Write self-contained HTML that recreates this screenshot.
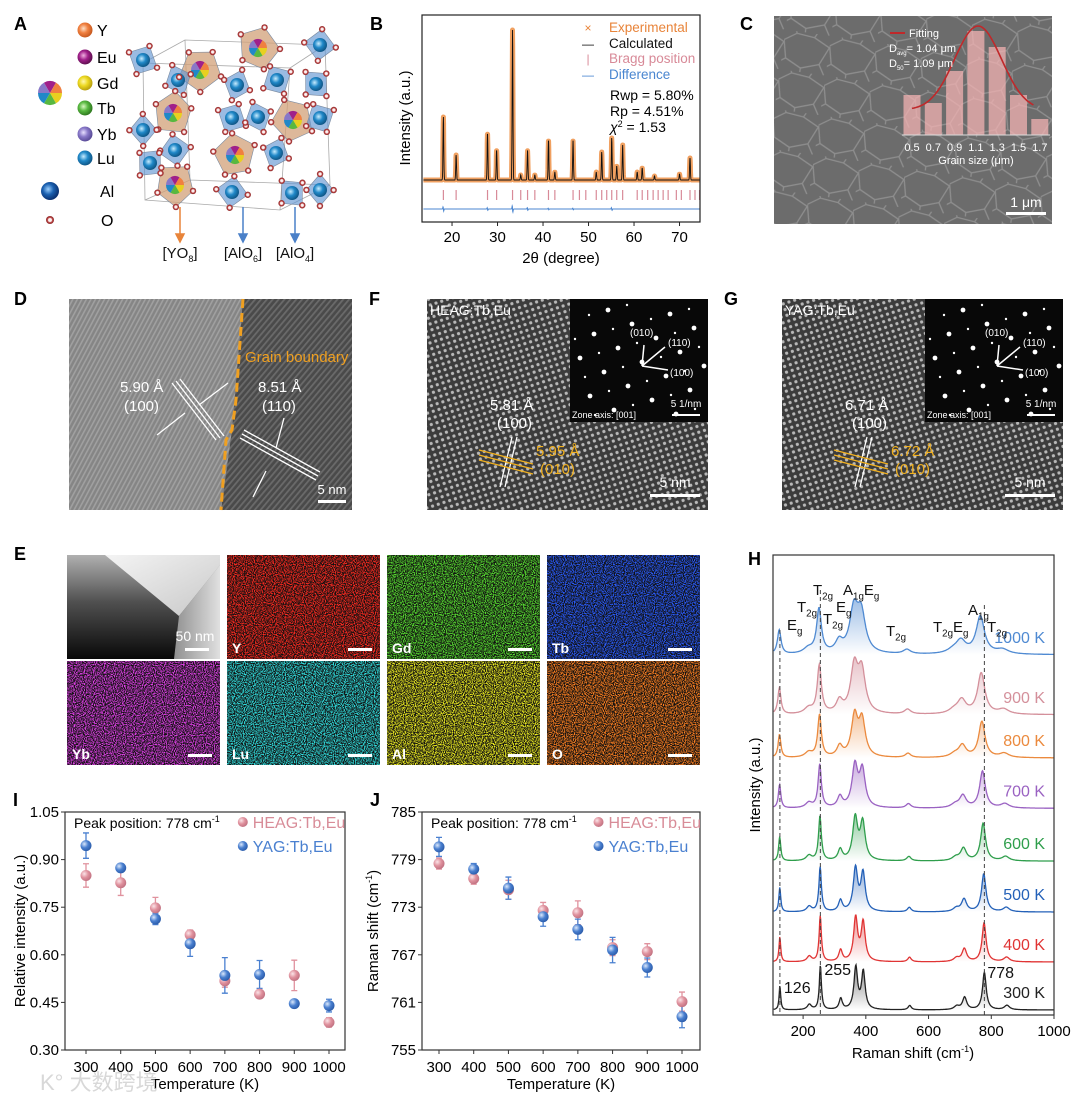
<!DOCTYPE html>
<html><head><meta charset="utf-8"><style>
html,body{margin:0;padding:0;background:#fff}
svg{display:block;font-family:"Liberation Sans",Arial,sans-serif}
</style></head><body>
<svg id="fig" width="1080" height="1108" viewBox="0 0 1080 1108" xmlns="http://www.w3.org/2000/svg">
<defs>
<radialGradient id="gY" cx="0.4" cy="0.4" r="0.6"><stop offset="0" stop-color="#fde0c8"/><stop offset="0.5" stop-color="#f08040"/><stop offset="1" stop-color="#c85a20"/></radialGradient>
<radialGradient id="gEu" cx="0.4" cy="0.4" r="0.6"><stop offset="0" stop-color="#f0b0e0"/><stop offset="0.5" stop-color="#a0208a"/><stop offset="1" stop-color="#601050"/></radialGradient>
<radialGradient id="gGd" cx="0.4" cy="0.4" r="0.6"><stop offset="0" stop-color="#fff8b0"/><stop offset="0.5" stop-color="#ecd820"/><stop offset="1" stop-color="#b8a010"/></radialGradient>
<radialGradient id="gTb" cx="0.4" cy="0.4" r="0.6"><stop offset="0" stop-color="#d8f8c0"/><stop offset="0.5" stop-color="#58b840"/><stop offset="1" stop-color="#307a20"/></radialGradient>
<radialGradient id="gYb" cx="0.4" cy="0.4" r="0.6"><stop offset="0" stop-color="#e8e0ff"/><stop offset="0.5" stop-color="#8878c8"/><stop offset="1" stop-color="#5a4c98"/></radialGradient>
<radialGradient id="gLu" cx="0.4" cy="0.4" r="0.6"><stop offset="0" stop-color="#c8ecff"/><stop offset="0.5" stop-color="#2088c8"/><stop offset="1" stop-color="#105888"/></radialGradient>
<radialGradient id="gAl" cx="0.4" cy="0.4" r="0.6"><stop offset="0" stop-color="#9cd0ff"/><stop offset="0.5" stop-color="#1a60b0"/><stop offset="1" stop-color="#0a3070"/></radialGradient>
<radialGradient id="gO" cx="0.5" cy="0.5" r="0.5"><stop offset="0" stop-color="#fff"/><stop offset="0.45" stop-color="#f4e0e0"/><stop offset="0.6" stop-color="#c04848"/><stop offset="1" stop-color="#8a2828"/></radialGradient>
<radialGradient id="gPink" cx="0.35" cy="0.35" r="0.7"><stop offset="0" stop-color="#fbe4e8"/><stop offset="0.5" stop-color="#e0929e"/><stop offset="1" stop-color="#c07080"/></radialGradient>
<radialGradient id="gBlue" cx="0.35" cy="0.35" r="0.7"><stop offset="0" stop-color="#dbe8fb"/><stop offset="0.5" stop-color="#4a80d0"/><stop offset="1" stop-color="#2a5aa8"/></radialGradient>
<pattern id="fringeL" width="4" height="4" patternUnits="userSpaceOnUse" patternTransform="rotate(28)"><rect width="4" height="4" fill="#858585"/><rect width="1.6" height="4" fill="#a0a0a0"/></pattern>
<pattern id="fringeR" width="4.5" height="4.5" patternUnits="userSpaceOnUse" patternTransform="rotate(40)"><rect width="4.5" height="4.5" fill="#4a4a4a"/><rect width="1.8" height="4.5" fill="#6a6a6a"/></pattern>
<pattern id="lattice" width="6" height="6" patternUnits="userSpaceOnUse" patternTransform="rotate(-18)"><rect width="6" height="6" fill="#3c3c3c"/><circle cx="3" cy="3" r="1.6" fill="#b8b8b8"/></pattern>
<pattern id="grains" width="46" height="40" patternUnits="userSpaceOnUse" patternTransform="rotate(8)"><rect width="46" height="40" fill="#6c6c6c"/><path d="M0 10 L12 2 L30 4 L46 12 M12 2 L10 -4 M30 4 L34 -4 M0 10 L4 28 L20 36 L38 30 L46 12 M20 36 L20 44 M38 30 L44 40 M4 28 L-2 32" stroke="#8e8e8e" stroke-width="1.3" fill="none"/></pattern>
<filter id="speck" x="0" y="0" width="1" height="1"><feTurbulence type="fractalNoise" baseFrequency="0.9" numOctaves="1" seed="3" result="n"/><feColorMatrix in="n" type="matrix" values="0 0 0 0 0  0 0 0 0 0  0 0 0 0 0  4 0 0 0 -1.6" result="a"/><feComposite in="SourceGraphic" in2="a" operator="in"/></filter>
<linearGradient id="temL" x1="0" y1="0" x2="0" y2="1"><stop offset="0" stop-color="#b0b0b0"/><stop offset="0.45" stop-color="#505050"/><stop offset="1" stop-color="#080808"/></linearGradient>
<linearGradient id="temR" x1="0" y1="0" x2="1" y2="1"><stop offset="0" stop-color="#f4f4f4"/><stop offset="1" stop-color="#c8c8c8"/></linearGradient>
<linearGradient id="temB" x1="0" y1="0" x2="1" y2="0"><stop offset="0" stop-color="#909090"/><stop offset="1" stop-color="#e0e0e0"/></linearGradient>
</defs>
<g id="panelA"></g>
<g id="panelB"></g>
<g id="panelC"></g>
<g id="panelD"></g>
<g id="panelF"></g>
<g id="panelG"></g>
<g id="panelE"></g>
<g id="panelH"></g>
<g id="panelI"></g>
<g id="panelJ"></g>
<text x="40" y="1090" font-size="22" fill="#d8d8d8" font-family="'Liberation Sans','Noto Sans CJK SC',sans-serif">K° 大数跨境</text>
</svg>
<script>
// ===== Chart data =====
// B: XRD
const xrdPeakPos = [18.1,20.9,27.8,29.8,33.3,35.1,36.6,38.2,41.2,42.6,46.6,51.7,52.9,55.1,56.2,57.5,60.7,61.8,64.5,70.0,72.3];
const xrdPeakHt  = [63,25,47,30,150,5,30,5,40,8,40,8,28,42,14,35,8,12,4,6,22];
const braggPos = [18.1,20.9,27.8,29.8,33.3,35.1,36.6,38.2,41.2,42.6,46.6,48.0,49.4,51.7,52.9,54.0,55.1,56.2,57.5,60.7,61.8,63.0,64.2,65.3,66.4,67.5,69.3,70.4,72.3,73.4,74.4];
const diffPos = [18.1,27.8,33.3,36.6,41.2,46.6,55.1];
const diffAmp = [5,3,7,3,2,2,3];
const xrdTicks = [20,30,40,50,60,70];
// C: grain-size histogram
const grainSizes = [0.5,0.7,0.9,1.1,1.3,1.5,1.7];
const grainCounts = [40,32,64,104,88,40,16];
const grainTicks = ['0.5','0.7','0.9','1.1','1.3','1.5','1.7'];
const fitMean = 1.12, fitSigma = 0.22, fitAmp = 84, fitBase = 25;
// H: Raman
const ramanTemps = [300,400,500,600,700,800,900,1000];
const ramanLabels = ['300 K','400 K','500 K','600 K','700 K','800 K','900 K','1000 K'];
const ramanColors = ['#222222','#e03434','#2461b8','#2f9e4c','#9a62c2','#eb8a3e','#d4909b','#4f8ad2'];
const ramanOffset = [0,1.0,2.04,3.1,4.2,5.25,6.15,7.4];
const ramanAmp = [0.92,0.95,0.93,0.92,0.9,0.88,1.0,0.92];
const ramanShift = [0,-1,-2,-4,-6,-8,-10,-13];
const ramanBroad = [1,1.1,1.2,1.35,1.55,1.75,2.0,2.3];
const modePos = [126,220,255,320,368,392,540,690,715,778,850];
const modeHt  = [0.55,0.12,1.0,0.25,0.95,0.85,0.1,0.08,0.28,0.85,0.1];
const modeWid = [3,8,4,6,7,7,6,10,8,7,10];
const ramanTicks = [200,400,600,800,1000];
const markedPeaks = [126,255,778];
// I
const tempsIJ = [300,400,500,600,700,800,900,1000];
const heagInt = [0.850,0.827,0.748,0.663,0.518,0.476,0.535,0.387];
const heagIntErr = [0.037,0.040,0.033,0.015,0.020,0.010,0.048,0.015];
const yagInt = [0.944,0.874,0.713,0.635,0.535,0.538,0.446,0.440];
const yagIntErr = [0.040,0.012,0.018,0.040,0.056,0.044,0.005,0.020];
const intTicks = ['0.30','0.45','0.60','0.75','0.90','1.05'];
// J
const heagShift = [778.5,776.6,775.2,772.6,772.3,767.9,767.4,761.1];
const heagShiftErr = [0.7,0.7,1.2,1.0,1.5,1.0,1.0,1.2];
const yagShift = [780.6,777.8,775.4,771.8,770.2,767.6,765.4,759.2];
const yagShiftErr = [1.2,0.7,1.4,1.2,1.3,1.6,1.2,1.4];
const shiftTicks = [755,761,767,773,779,785];

const NS='http://www.w3.org/2000/svg';
function mk(tag,attrs,parent){const e=document.createElementNS(NS,tag);for(const k in attrs)e.setAttribute(k,attrs[k]);parent.appendChild(e);return e;}
function txt(s,x,y,size,parent,extra){const a={x:x,y:y,'font-size':size};if(extra)for(const k in extra)a[k]=extra[k];const t=mk('text',a,parent);t.textContent=s;return t;}
function sub(parent,x,y,size,main,subs,fill,anchor){const t=mk('text',{x:x,y:y,'font-size':size,fill:fill||'#111','text-anchor':anchor||'start'},parent);
  for(let i=0;i<main.length;i++){const a=document.createElementNS(NS,'tspan');a.textContent=main[i];if(i>0)a.setAttribute('dy',-size*0.3);t.appendChild(a);
   const b=document.createElementNS(NS,'tspan');b.setAttribute('font-size',size*0.65);b.setAttribute('dy',size*0.3);b.textContent=subs[i];t.appendChild(b);}
  return t;}

// ===== Panel A =====
(function(){
 const g=document.getElementById('panelA');
 const lab=txt('A',14,30,18,g,{'font-weight':'bold'});
 
 
 const els=[['Y','gY',30],['Eu','gEu',57],['Gd','gGd',83],['Tb','gTb',108],['Yb','gYb',134],['Lu','gLu',158]];
 els.forEach(e=>{const c=mk('circle',{cx:85,cy:e[2],r:7.5,fill:'url(#'+e[1]+')'},g);
  
  
  const t=txt(e[0],97,e[2]+6,16,g);
  
  });
 const cols=['#e8d020','#58b840','#2088c8','#8878c8','#a0208a','#f08040'];
 for(let i=0;i<6;i++){const a1=i*Math.PI/3,a2=(i+1)*Math.PI/3;
  const p=mk('path',{d:`M50 93 L${50+12*Math.cos(a1)} ${93+12*Math.sin(a1)} A12 12 0 0 1 ${50+12*Math.cos(a2)} ${93+12*Math.sin(a2)} Z`,fill:cols[i]},g);
  
  }
 const al=mk('circle',{cx:50,cy:191,r:9,fill:'url(#gAl)'},g);
 
 
 const ta=txt('Al',100,197,16,g);
 const o=mk('circle',{cx:50,cy:220,r:4,fill:'url(#gO)'},g);
 
 
 const to=txt('O',101,226,16,g);
 const box=mk('path',{d:'M143 63 L290 68 L280 210 L145 200 Z M185 40 L325 45 L330 185 L190 180 Z M143 63 L185 40 M290 68 L325 45 M280 210 L330 185 M145 200 L190 180',fill:'none',stroke:'#aaa','stroke-width':0.8},g);
 
 
 const blue=[[143,60],[178,80],[237,85],[277,80],[320,45],[316,84],[143,130],[150,163],[175,150],[232,118],[258,117],[276,153],[320,118],[232,192],[292,193],[320,190]];
 const brown=[[200,70],[258,48],[173,113],[235,155],[293,120],[175,185]];
 function poly(cx,cy,r,n,rot,fill,name){let pts=[];for(let i=0;i<n;i++){const a=rot+i*2*Math.PI/n;pts.push([cx+r*Math.cos(a)*(i%2?0.85:1),cy+r*Math.sin(a)]);}
  const p=mk('polygon',{points:pts.map(q=>q.join(',')).join(' '),fill:fill,stroke:'#7a8aa0','stroke-width':0.6},g);
  
  
  return pts;}
 const ox=[];
 brown.forEach((b,i)=>{const pts=poly(b[0],b[1],22,5,0.3+i,'rgba(210,160,120,0.75)','yo8-polyhedron');ox.push(...pts);});
 blue.forEach((b,i)=>{const pts=poly(b[0],b[1],16,4,0.5+i*0.7,'rgba(100,150,210,0.65)','alo-polyhedron');ox.push(...pts);});
 brown.forEach(b=>{for(let i=0;i<6;i++){const a1=i*Math.PI/3,a2=(i+1)*Math.PI/3,r=9;
  const p=mk('path',{d:`M${b[0]} ${b[1]} L${b[0]+r*Math.cos(a1)} ${b[1]+r*Math.sin(a1)} A${r} ${r} 0 0 1 ${b[0]+r*Math.cos(a2)} ${b[1]+r*Math.sin(a2)} Z`,fill:cols[i]},g);
  
  }});
 blue.forEach(b=>{const c=mk('circle',{cx:b[0],cy:b[1],r:7,fill:'url(#gLu)'},g);
  
  });
 ox.forEach(p=>{const c=mk('circle',{cx:p[0],cy:p[1],r:3.2,fill:'url(#gO)'},g);
  
  });
 [[180,'#e8843a','[YO','8'],[243,'#4a80c8','[AlO','6'],[295,'#4a80c8','[AlO','4']].forEach(a=>{
  const l=mk('path',{d:`M${a[0]} 207 L${a[0]} 240 M${a[0]-4} 234 L${a[0]} 242 L${a[0]+4} 234 Z`,stroke:a[1],fill:a[1],'stroke-width':1.5},g);
  
  
  const t=mk('text',{x:a[0],y:258,'font-size':15,'text-anchor':'middle',fill:'#111'},g);
  t.innerHTML=a[2]+'<tspan font-size="9" dy="4">'+a[3]+'</tspan><tspan dy="-4">]</tspan>';
  
  });
})();

// ===== Panel B =====
(function(){
 const g=document.getElementById('panelB');
 const L=422,R=700,T=15,Bm=222,lo=13.4,hi=74.5;
 const xb=v=>L+(v-lo)*(R-L)/(hi-lo);
 const base=180;
 const lab=txt('B',370,30,18,g,{'font-weight':'bold'});
 
 
 const prof=v=>{let s=0;for(let i=0;i<xrdPeakPos.length;i++){s+=xrdPeakHt[i]*Math.exp(-Math.pow((v-xrdPeakPos[i])/0.12,2));}return s;};
 let d='';for(let v=lo+0.3;v<=hi-0.1;v+=0.04){d+=(d?'L':'M')+xb(v).toFixed(1)+' '+(base-prof(v)).toFixed(1);}
 const ex=mk('path',{d:d,fill:'none',stroke:'#f0a060','stroke-width':5,'stroke-linejoin':'round'},g);
 
 
 const ca=mk('path',{d:d,fill:'none',stroke:'#111','stroke-width':0.9},g);
 
 
 braggPos.forEach(v=>{const l=mk('line',{x1:xb(v),x2:xb(v),y1:190,y2:200,stroke:'#d88a98','stroke-width':1.2},g);
  
  });
 let dd='';for(let v=lo+0.3;v<=hi-0.1;v+=0.04){let s=0;for(let i=0;i<diffPos.length;i++){const u=(v-diffPos[i])/0.1;s+=diffAmp[i]*u*Math.exp(-u*u);}dd+=(dd?'L':'M')+xb(v).toFixed(1)+' '+(209+s).toFixed(1);}
 const df=mk('path',{d:dd,fill:'none',stroke:'#4a86d0','stroke-width':1},g);
 
 
 const fr=mk('rect',{x:L,y:T,width:R-L,height:Bm-T,fill:'none',stroke:'#222','stroke-width':1.2},g);
 
 
 xrdTicks.forEach(v=>{const l=mk('line',{x1:xb(v),x2:xb(v),y1:Bm,y2:Bm+4,stroke:'#222'},g);
  
  
  const t=txt(String(v),xb(v),Bm+20,15,g,{'text-anchor':'middle'});
  
  });
 const xt=txt('2θ (degree)',561,263,15,g,{'text-anchor':'middle'});
 
 
 const yt=txt('Intensity (a.u.)',0,0,15,g,{'text-anchor':'middle',transform:'translate(410 118) rotate(-90)'});
 
 
 const lg=[['×','Experimental','#e8843a',27],['—','Calculated','#111',43],['|','Bragg position','#d88a98',58],['—','Difference','#4a86d0',74]];
 lg.forEach(e=>{const m=txt(e[0],588,e[3]+5,12,g,{fill:e[0]==='×'?'#e8843a':e[2],'text-anchor':'middle'});
  
  
  const t=txt(e[1],609,e[3]+5,13.5,g,{fill:e[2]});
  
  });
 const s1=txt('Rwp = 5.80%',610,100,14,g);
 const s2=txt('Rp = 4.51%',610,116,14,g);
 const s3=mk('text',{x:610,y:132,'font-size':14},g);s3.innerHTML='<tspan font-style="italic">χ</tspan><tspan font-size="9" dy="-5">2</tspan><tspan dy="5"> = 1.53</tspan>';
 
 
})();

// ===== Panel C =====
(function(){
 const g=document.getElementById('panelC');
 const lab=txt('C',740,30,18,g,{'font-weight':'bold'});
 
 
 const img=mk('rect',{x:774,y:16,width:278,height:208,fill:'url(#grains)'},g);
 
 
 const xC=s=>912+(s-0.5)*106.5, yC=v=>135-v;
 grainSizes.forEach((s,i)=>{const r=mk('rect',{x:xC(s)-8.5,y:yC(grainCounts[i]),width:17,height:grainCounts[i],fill:'rgba(246,180,180,0.72)'},g);
  
  
  const t=txt(grainTicks[i],xC(s),151,11,g,{fill:'#fff','text-anchor':'middle'});
  
  });
 const ax=mk('line',{x1:902,x2:1050,y1:135,y2:135,stroke:'#ddd'},g);
 
 
 let d='';for(let s=0.5;s<=1.66;s+=0.02){const v=fitBase+fitAmp*Math.exp(-Math.pow(s-fitMean,2)/(2*fitSigma*fitSigma));d+=(d?'L':'M')+xC(s).toFixed(1)+' '+yC(v).toFixed(1);}
 const fc=mk('path',{d:d,fill:'none',stroke:'#c0282a','stroke-width':1.6},g);
 
 
 const gt=txt('Grain size (μm)',976,164,11,g,{fill:'#fff','text-anchor':'middle'});
 
 
 const ll=mk('line',{x1:890,x2:905,y1:33,y2:33,stroke:'#c0282a','stroke-width':2},g);
 
 
 const lt=txt('Fitting',909,37,11,g,{fill:'#fff'});
 const a1=mk('text',{x:889,y:52,'font-size':11,fill:'#fff'},g);a1.innerHTML='D<tspan font-size="6" dy="3">avg</tspan><tspan dy="-3">= 1.04 μm</tspan>';
 
 const a2=mk('text',{x:889,y:67,'font-size':11,fill:'#fff'},g);a2.innerHTML='D<tspan font-size="6" dy="3">50</tspan><tspan dy="-3">= 1.09 μm</tspan>';
 
 const sb=mk('rect',{x:1006,y:212,width:40,height:3,fill:'#fff'},g);
 const st=txt('1 μm',1026,207,14,g,{fill:'#fff','text-anchor':'middle'});
})();

// ===== Panels D, F, G =====
(function(){
 const g=document.getElementById('panelD');
 const lab=txt('D',14,305,18,g,{'font-weight':'bold'});
 const r1=mk('rect',{x:69,y:299,width:283,height:211,fill:'url(#fringeR)'},g);
 const r2=mk('polygon',{points:'69,299 243,299 232,430 221,510 69,510',fill:'url(#fringeL)'},g);
 const b=mk('path',{d:'M243 299 L236 400 L232 430 L226 440 L221 510',fill:'none',stroke:'#f0a020','stroke-width':3,'stroke-dasharray':'9 5'},g);
 const gb=txt('Grain boundary',245,362,15,g,{fill:'#f0a020'});
 const ln=mk('path',{d:'M172 383 L216 440 M176 381 L220 438 M180 379 L224 436 M240 438 L316 480 M242 434 L318 476 M244 430 L320 472 M157 435 L185 413 M228 383 L199 405 M284 418 L276 448 M253 497 L266 471',stroke:'#fff','stroke-width':1.3,fill:'none'},g);
 [['5.90 Å',120,392],['(100)',124,411],['8.51 Å',258,392],['(110)',262,411]].forEach(e=>{const t=txt(e[0],e[1],e[2],15,g,{fill:'#fff'});});
 const sb=mk('rect',{x:318,y:500,width:28,height:3,fill:'#fff'},g);
 const st=txt('5 nm',332,494,13,g,{fill:'#fff','text-anchor':'middle'});

 function hr(id,dx,letter,name,a1,a2){
  const g=document.getElementById(id);
  const lab=txt(letter,369+dx,305,18,g,{'font-weight':'bold'});
  const r=mk('rect',{x:427+dx,y:299,width:281,height:211,fill:'url(#lattice)'},g);
  const inset=mk('rect',{x:570+dx,y:299,width:138,height:123,fill:'#080808'},g);
  for(let i=-4;i<=4;i++)for(let j=-4;j<=4;j++){const x=642+dx+i*19+j*5,y=362+j*19-i*5;if(x<574+dx||x>704+dx||y<303||y>418)continue;
   const c=mk('circle',{cx:x,cy:y,r:(i+j)%2?1.2:2.4,fill:'#fff'},g);}
  const ar=mk('path',{d:`M${642+dx} 366 L${644+dx} 345 M${642+dx} 366 L${665+dx} 347 M${642+dx} 366 L${668+dx} 370`,stroke:'#fff','stroke-width':1.5},g);
  [['(010)',630,336],['(110)',668,346],['(100)',670,376]].forEach(e=>{const t=txt(e[0],e[1]+dx,e[2],10,g,{fill:'#fff'});});
  const za=txt('Zone axis: [001]',572+dx,418,9,g,{fill:'#fff'});
  const isb=mk('rect',{x:672+dx,y:414,width:28,height:2,fill:'#fff'},g);
  const ist=txt('5 1/nm',686+dx,407,10,g,{fill:'#fff','text-anchor':'middle'});
  const nm=txt(name,430+dx,315,14,g,{fill:'#fff'});
  const wl=mk('path',{d:`M${512+dx} 437 L${500+dx} 487 M${517+dx} 437 L${505+dx} 487`,stroke:'#fff','stroke-width':1.3},g);
  const yl=mk('path',{d:`M${479+dx} 450 L${533+dx} 464 M${479+dx} 455 L${533+dx} 469 M${479+dx} 460 L${533+dx} 474`,stroke:'#f0b020','stroke-width':1.3},g);
  const t1=txt(a1,490+dx,410,15,g,{fill:'#fff'});
  const t2=txt('(100)',497+dx,428,15,g,{fill:'#fff'});
  const t3=txt(a2,536+dx,456,15,g,{fill:'#f0b020'});
  const t4=txt('(010)',540+dx,474,15,g,{fill:'#f0b020'});
  const sb=mk('rect',{x:650+dx,y:494,width:50,height:3,fill:'#fff'},g);
  const st=txt('5 nm',675+dx,487,14,g,{fill:'#fff','text-anchor':'middle'});
 }
 hr('panelF',0,'F','HEAG:Tb,Eu','5.81 Å','5.95 Å');
 hr('panelG',355,'G','YAG:Tb,Eu','6.71 Å','6.72 Å');
})();

// ===== Panel E =====
(function(){
 const g=document.getElementById('panelE');
 const lab=txt('E',14,560,18,g,{'font-weight':'bold'});
 const colsX=[67,227,387,547], rowsY=[555,661], w=153, h=104;
 const maps=[[null,'',0,0],['#ff2a20','Y',1,0],['#58e030','Gd',2,0],['#2a5cff','Tb',3,0],['#e040e8','Yb',0,1],['#30e0e0','Lu',1,1],['#f0f020','Al',2,1],['#ff8020','O',3,1]];
 maps.forEach(m=>{const x=colsX[m[2]],y=rowsY[m[3]];
  if(!m[0]){const bg=mk('rect',{x:x,y:y,width:w,height:h,fill:'url(#temL)'},g);
   const p2=mk('polygon',{points:`${x+38} ${y} ${x+w} ${y} ${x+w} ${y+10} ${x+112} ${y+61}`,fill:'url(#temR)'},g);
   const p3=mk('polygon',{points:`${x+112} ${y+61} ${x+w} ${y+10} ${x+w} ${y+h} ${x+107} ${y+h}`,fill:'url(#temB)'},g);
   const sb=mk('rect',{x:x+118,y:y+93,width:24,height:3,fill:'#fff'},g);
   const st=txt('50 nm',x+128,y+86,14,g,{fill:'#fff','text-anchor':'middle'});
   return;}
  const bg=mk('rect',{x:x,y:y,width:w,height:h,fill:'#111'},g);
  const fg=mk('rect',{x:x,y:y,width:w,height:h,fill:m[0],filter:'url(#speck)'},g);
  const t=txt(m[1],x+5,y+h-6,14,g,{fill:'#fff','font-weight':'bold'});
  const sb=mk('rect',{x:x+w-32,y:y+h-11,width:24,height:3,fill:'#fff'},g);
 });
})();

// ===== Panel H =====
(function(){
 const g=document.getElementById('panelH');
 const L=773,R=1054,T=555,B=1015,lo=104,hi=1000;
 const xH=v=>L+(v-lo)*(R-L)/(hi-lo);
 const unit=48, base0=1010;
 const yH=v=>base0-v*unit;
 const lab=txt('H',748,565,18,g,{'font-weight':'bold'});
 const defs=document.querySelector('defs');
 ramanTemps.forEach((T0,k)=>{
  const grad=mk('linearGradient',{id:'rg'+k,x1:0,y1:0,x2:0,y2:1},defs);
  mk('stop',{offset:0,'stop-color':ramanColors[k],'stop-opacity':0.55},grad);
  mk('stop',{offset:1,'stop-color':ramanColors[k],'stop-opacity':0},grad);
  const inten=x=>{let s=0;for(let i=0;i<modePos.length;i++){const p=modePos[i]+ramanShift[k]*modePos[i]/778,w=modeWid[i]*ramanBroad[k];s+=modeHt[i]/(1+Math.pow((x-p)/w,2));}return s*ramanAmp[k];};
  let d='';for(let x=106;x<=1000;x+=1.5){d+=(d?'L':'M')+xH(x).toFixed(1)+' '+yH(ramanOffset[k]+inten(x)).toFixed(1);}
  const f=mk('path',{d:d+`L${xH(1000)} ${yH(ramanOffset[k])} L${xH(106)} ${yH(ramanOffset[k])} Z`,fill:'url(#rg'+k+')',stroke:'none'},g);
  
  
  const p=mk('path',{d:d,fill:'none',stroke:ramanColors[k],'stroke-width':1.3},g);
  
  
  const t=txt(ramanLabels[k],1045,yH(ramanOffset[k])-12,16,g,{fill:ramanColors[k],'text-anchor':'end'});
  
  
 });
 const tops=[630,590,605];
 markedPeaks.forEach((v,i)=>{const l=mk('line',{x1:xH(v),x2:xH(v),y1:tops[i],y2:B,stroke:'#444','stroke-width':1,'stroke-dasharray':'4 3'},g);
  
  
  const t=txt(String(v),xH(v)+(i===2?3:4),[993,975,978][i],16,g,{fill:'#111'});
  
  });
 const modes=[[787,630,['E'],['g']],[797,612,['T'],['2g']],[813,595,['T'],['2g']],[823,624,['T'],['2g']],[836,612,['E'],['g']],[843,595,['A','E'],['1g','g']],[886,636,['T'],['2g']],[933,632,['T','E'],['2g','g']],[968,615,['A'],['1g']],[987,632,['T'],['2g']]];
 modes.forEach(m=>{const t=sub(g,m[0],m[1],15,m[2],m[3]);});
 const fr=mk('rect',{x:L,y:T,width:R-L,height:B-T,fill:'none',stroke:'#333','stroke-width':1.2},g);
 ramanTicks.forEach(v=>{const l=mk('line',{x1:xH(v),x2:xH(v),y1:B,y2:B+4,stroke:'#333'},g);
  const t=txt(String(v),xH(v),B+21,15,g,{'text-anchor':'middle'});});
 const xt=mk('text',{x:913,y:1058,'font-size':15,'text-anchor':'middle'},g);xt.innerHTML='Raman shift (cm<tspan font-size="9" dy="-6">-1</tspan><tspan dy="6">)</tspan>';
 
 const yt=txt('Intensity (a.u.)',0,0,15,g,{'text-anchor':'middle',transform:'translate(760 785) rotate(-90)'});
})();

// ===== Panels I and J =====
function scatterPanel(id,letter,L,R,x300,ylo,yhi,ticks,h,hE,y,yE,title,yTitleX){
 const g=document.getElementById(id);
 const T=812,B=1050;
 const xs=t=>x300+(t-300)/700*243;
 const ys=v=>B-(v-ylo)/(yhi-ylo)*(B-T);
 const lab=txt(letter,L-52,806,18,g,{'font-weight':'bold'});
 const fr=mk('rect',{x:L,y:T,width:R-L,height:B-T,fill:'none',stroke:'#333','stroke-width':1.2},g);
 ticks.forEach(v=>{const yy=ys(parseFloat(v));const l=mk('line',{x1:L-4,x2:L,y1:yy,y2:yy,stroke:'#333'},g);
  const t=txt(String(v),L-6,yy+5,15,g,{'text-anchor':'end'});});
 tempsIJ.forEach(tt=>{const l=mk('line',{x1:xs(tt),x2:xs(tt),y1:B,y2:B+4,stroke:'#333'},g);
  const t=txt(String(tt),xs(tt),B+22,15,g,{'text-anchor':'middle'});});
 const series=[[h,hE,'#e0929e','url(#gPink)','heag'],[y,yE,'#4a80d0','url(#gBlue)','yag']];
 series.forEach(s=>{tempsIJ.forEach((tt,i)=>{const x=xs(tt),y0=ys(s[0][i]-s[1][i]),y1=ys(s[0][i]+s[1][i]);
  const e=mk('path',{d:`M${x} ${y0} L${x} ${y1} M${x-3} ${y0} L${x+3} ${y0} M${x-3} ${y1} L${x+3} ${y1}`,stroke:s[2],'stroke-width':1.3},g);
  });});
 series.forEach(s=>{tempsIJ.forEach((tt,i)=>{const c=mk('circle',{cx:xs(tt),cy:ys(s[0][i]),r:5.5,fill:s[3]},g);
  });});
 const pk=mk('text',{x:L+9,y:828,'font-size':14},g);pk.innerHTML='Peak position: 778 cm<tspan font-size="9" dy="-6">-1</tspan>';
 
 const lx=L+(R-L)*0.635;
 const m1=mk('circle',{cx:lx,cy:822,r:5,fill:'url(#gPink)'},g);
 const t1=txt('HEAG:Tb,Eu',lx+10,828,16,g,{fill:'#d88c98'});
 const m2=mk('circle',{cx:lx,cy:846,r:5,fill:'url(#gBlue)'},g);
 const t2=txt('YAG:Tb,Eu',lx+10,852,16,g,{fill:'#4a80d0'});
 const xt=txt('Temperature (K)',(L+R)/2,1089,15,g,{'text-anchor':'middle'});
 const yt=mk('text',{'font-size':15,'text-anchor':'middle',transform:`translate(${yTitleX} 931) rotate(-90)`},g);yt.innerHTML=title;
 
}
scatterPanel('panelI','I',65,345,86,0.30,1.05,intTicks,heagInt,heagIntErr,yagInt,yagIntErr,'Relative intensity (a.u.)',25);
scatterPanel('panelJ','J',422,700,439,755,785,shiftTicks,heagShift,heagShiftErr,yagShift,yagShiftErr,'Raman shift (cm<tspan font-size="9" dy="-6">-1</tspan><tspan dy="6">)</tspan>',378);
</script>
</body></html>
